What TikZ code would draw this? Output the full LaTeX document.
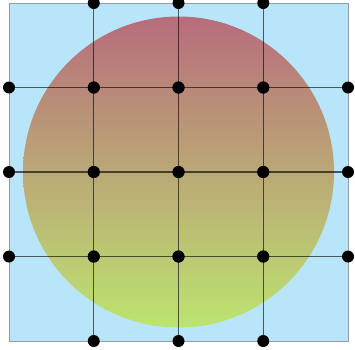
\documentclass[tikz,border=0pt]{standalone}
\begin{document}
\begin{tikzpicture}[x=1pt,y=-1pt,
  gridline/.style={line width=1.3pt,draw=black,draw opacity=0.62},
  dotpt/.style={circle,fill=black,inner sep=0pt,minimum size=12pt},
  frame/.style={draw=gray!80,fill={rgb,255:red,185;green,229;blue,250},line width=1pt}]
\useasboundingbox (0,0) rectangle (355,349);
\definecolor{ctop}{RGB}{184,108,124}
\definecolor{cbot}{RGB}{188,228,112}
\path[frame] (9,3) rectangle (348,341);
\shade[top color=ctop,bottom color=cbot] (178.5,172) circle[radius=155.5];
% coordinates
\foreach \i/\x in {0/9,1/93.75,2/178.5,3/263.25,4/348}{
  \foreach \j/\y in {0/3,1/87.5,2/172,3/256.5,4/341}{
    \coordinate (p\i\j) at (\x,\y);
  }
}
\foreach \i in {1,2,3}{
  \draw[gridline] (p\i0) -- (p\i4);
  \draw[gridline] (p0\i) -- (p4\i);
}
\foreach \i in {1,2,3}{
  \foreach \j in {0,1,2,3,4}{
    \node[dotpt] (d\i\j) at (p\i\j) {};
    \node[dotpt] (e\j\i) at (p\j\i) {};
  }
}
\end{tikzpicture}
\end{document}
